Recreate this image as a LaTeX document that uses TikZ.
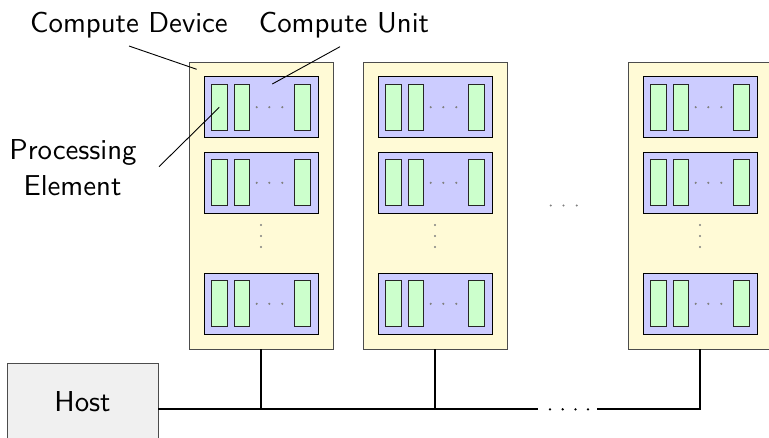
\documentclass[tikz,border=0pt]{standalone}
\usepackage{graphicx}
\definecolor{devfill}{RGB}{255,250,214}
\definecolor{cufill}{RGB}{204,204,255}
\definecolor{pefill}{RGB}{204,255,204}
\definecolor{hostfill}{RGB}{240,240,240}
\newcommand{\bigtxt}[1]{\scalebox{2.88}{\sffamily\fontsize{10}{12}\selectfont #1}}
\begin{document}
\begin{tikzpicture}[x=1pt,y=-1pt,
  device/.style={draw=black!70, fill=devfill, line width=1pt, minimum width=144pt, minimum height=287pt, inner sep=0pt, outer sep=0pt, anchor=north west},
  cu/.style={draw=black, fill=cufill, line width=1pt, minimum width=114pt, minimum height=61pt, inner sep=0pt, outer sep=0pt, anchor=north west},
  pe/.style={draw=black!85, fill=pefill, line width=1pt, minimum width=15.3pt, minimum height=45.7pt, inner sep=0pt, outer sep=0pt, anchor=north west},
  gdot/.style={circle, fill=black!50, inner sep=0pt, minimum size=2.4pt},
  bdot/.style={circle, fill=black, inner sep=0pt, minimum size=2.6pt},
  hostbox/.style={draw=black!70, fill=hostfill, line width=1pt, minimum width=151pt, minimum height=77pt, inner sep=0pt, outer sep=0pt, anchor=north west},
  lbl/.style={anchor=base, inner sep=0pt},
  leader/.style={draw=black, line width=0.9pt},
  bus/.style={draw=black, line width=1.8pt}
]
\useasboundingbox (0,0) rectangle (769,437);
\clip (0,0) rectangle (769,437);

\foreach \i/\xx in {1/189, 2/363, 3/628} {
  \node[device] (d\i) at (\xx,62) {};
  \foreach \j/\yy in {1/76.7, 2/152.3, 3/273.3} {
    \node[cu] (c\i\j) at (\xx+15,\yy) {};
    \node[pe] (p\i\j a) at (\xx+22.7,\yy+7.6) {};
    \node[pe] (p\i\j b) at (\xx+45.3,\yy+7.6) {};
    \node[pe] (p\i\j c) at (\xx+105.7,\yy+7.6) {};
    \node[gdot] (h\i\j a) at (\xx+67.7,\yy+30.5) {};
    \node[gdot] (h\i\j b) at (\xx+80.3,\yy+30.5) {};
    \node[gdot] (h\i\j c) at (\xx+93.3,\yy+30.5) {};
  }
  \node[gdot] (v\i a) at (\xx+72,225) {};
  \node[gdot] (v\i b) at (\xx+72,236) {};
  \node[gdot] (v\i c) at (\xx+72,247) {};
}

% dots between devices
\node[gdot] (m1) at (550.7,205.5) {};
\node[gdot] (m2) at (563.5,205.5) {};
\node[gdot] (m3) at (576.7,205.5) {};

% host and bus
\node[hostbox] (host) at (7,363.3) {\bigtxt{Host}};
\coordinate (busA) at (538.3,409.3);
\coordinate (busB) at (597.3,409.3);
\draw[bus] (host.east |- busA) -- (busA);
\draw[bus] (d1.south) -- (d1.south |- busA);
\draw[bus] (d2.south) -- (d2.south |- busA);
\draw[bus] (busB) -- (d3.south |- busB) -- (d3.south);
\node[bdot] (b1) at (550,409.3) {};
\node[bdot] (b2) at (562.7,409.3) {};
\node[bdot] (b3) at (575.5,409.3) {};
\node[bdot] (b4) at (588,409.3) {};

% labels
\node[lbl] (lcd) at (129,32) {\bigtxt{Compute Device}};
\node[lbl] (lcu) at (344,32) {\bigtxt{Compute Unit}};
\node[lbl] (lpe1) at (73,159) {\bigtxt{Processing}};
\node[lbl] (lpe2) at (72.5,195) {\bigtxt{Element}};

\coordinate (cdA) at (129,46);
\coordinate (cdB) at (196.7,69.3);
\coordinate (cuA) at (340,46.7);
\coordinate (cuB) at (272.3,84);
\coordinate (peA) at (159,166.7);
\coordinate (peB) at (219.3,107.3);
\draw[leader] (cdA) -- (cdB);
\draw[leader] (cuA) -- (cuB);
\draw[leader] (peA) -- (peB);
\end{tikzpicture}
\end{document}
